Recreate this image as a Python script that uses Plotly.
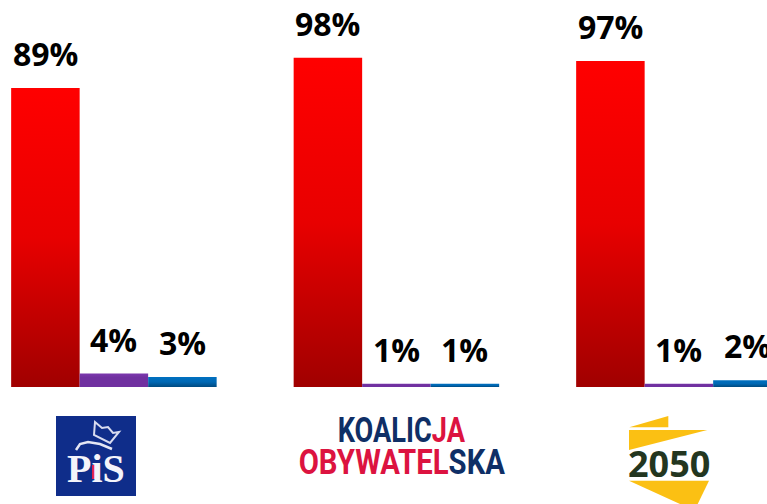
import plotly.graph_objects as go

W, H = 767, 504
parties = ["PiS", "Koalicja Obywatelska", "Polska 2050"]
tak = [89, 98, 97]
srodek = [4, 1, 1]
nie = [3, 1, 2]
series = [("Tak", tak, "#c00000"), ("Srodek", srodek, "#7030a0"), ("Nie", nie, "#0070c0")]

def X(p): return p / W
def Y(p): return 1 - p / H
def poly(pts, fill, line=None, lw=0, closed=True):
    d = "M" + " L".join(f"{X(a):.5f},{Y(b):.5f}" for a, b in pts) + (" Z" if closed else "")
    return dict(type="path", xref="paper", yref="paper", path=d,
                fillcolor=fill, line=dict(color=line or "rgba(0,0,0,0)", width=lw), layer="above")

fig = go.Figure()
for name, vals, col in series:
    fig.add_bar(x=parties, y=vals, name=name, marker=dict(color=col, line=dict(width=0)),
                hoverinfo="skip")

annotations = []
for i, (name, vals, col) in enumerate(series):
    for j, v in enumerate(vals):
        annotations.append(dict(x=j + (i - 1) * 0.2425, y=v, xref="x", yref="y", text=f"<b>{v}%</b>",
                                showarrow=False, xanchor="center", yanchor="bottom", yshift=11,
                                font=dict(family="Open Sans", size=32, color="#000000")))

# KOALICJA OBYWATELSKA logo
navy, crimson = "#0f2f66", "#dc1340"
annotations.append(dict(x=X(401), y=Y(430), xref="paper", yref="paper", showarrow=False,
    text=f'<b><span style="color:{navy}">KOALIC</span><span style="color:{crimson}">JA</span></b>',
    font=dict(family="Roboto", size=36), xanchor="center", yanchor="middle"))
annotations.append(dict(x=X(401.5), y=Y(462), xref="paper", yref="paper", showarrow=False,
    text=f'<b><span style="color:{crimson}">OBYWATEL</span><span style="color:{navy}">SKA</span></b>',
    font=dict(family="Roboto", size=36), xanchor="center", yanchor="middle"))
# PiS logo text
annotations.append(dict(x=X(96), y=Y(468), xref="paper", yref="paper", showarrow=False,
    text="<b>PiS</b>", font=dict(family="Liberation Serif", size=40, color="#f4f4fa"),
    xanchor="center", yanchor="middle"))
# 2050 logo text
annotations.append(dict(x=X(669), y=Y(463), xref="paper", yref="paper", showarrow=False,
    text="<b>2050</b>", font=dict(family="Open Sans", size=36, color="#233620"),
    xanchor="center", yanchor="middle"))

shapes = [
    dict(type="rect", xref="paper", yref="paper", x0=X(56), x1=X(136), y0=Y(496), y1=Y(416),
         fillcolor="#0f2d8a", line=dict(width=0), layer="below"),
    poly([(95, 422), (102, 428), (108, 427), (113, 433), (119, 432), (110, 443), (94, 435)],
         "rgba(0,0,0,0)", "#d8dcf0", 2),
    poly([(76, 450), (80, 444), (88, 442), (100, 444), (112, 449)], "rgba(0,0,0,0)", "#e4e6f4", 2.5, closed=False),
    dict(type="rect", xref="paper", yref="paper", x0=X(92), x1=X(99), y0=Y(479), y1=Y(465),
         fillcolor="#e0204a", line=dict(width=0), layer="above"),
    poly([(629.3, 427.3), (668.3, 416), (668.3, 427.3)], "#fbc013"),
    poly([(629, 430), (707.3, 430), (629, 450)], "#fbc013"),
    poly([(629, 480.7), (709, 480.7), (697.7, 504), (680, 504)], "#fbc013"),
]

pxcat = 282.5
r0 = -113.9 / pxcat
ppu = 3.36
fig.update_layout(
    width=W, height=H, margin=dict(l=0, r=0, t=0, b=0), autosize=False,
    paper_bgcolor="white", plot_bgcolor="white", showlegend=False,
    barmode="group", bargap=0.2726, bargroupgap=0,
    xaxis=dict(visible=False, range=[r0, r0 + W / pxcat]),
    yaxis=dict(visible=False, range=[-(H - 387) / ppu, 387 / ppu]),
    annotations=annotations, shapes=shapes,
)

post = """
document.body.style.margin = '0';
document.body.style.overflow = 'hidden';
var gd = document.getElementById('{plot_id}');
var stops = [
  [['0','#ff0000'],['0.5','#e80000'],['1','#a00000']],
  [['0','#7c38ae'],['0.3','#7030a0'],['1','#7030a0']],
  [['0','#0070c0'],['0.5','#0068b4'],['1','#004a80']]
];
var NS = 'http://www.w3.org/2000/svg';
var svg = gd.querySelector('svg.main-svg');
var defs = document.createElementNS(NS, 'defs');
stops.forEach(function(s, i) {
  var g = document.createElementNS(NS, 'linearGradient');
  g.setAttribute('id', 'grad' + i);
  g.setAttribute('x1', '0'); g.setAttribute('y1', '0');
  g.setAttribute('x2', '0'); g.setAttribute('y2', '1');
  s.forEach(function(p) {
    var st = document.createElementNS(NS, 'stop');
    st.setAttribute('offset', p[0]); st.setAttribute('stop-color', p[1]);
    g.appendChild(st);
  });
  defs.appendChild(g);
});
svg.insertBefore(defs, svg.firstChild);
gd.querySelectorAll('.barlayer .trace.bars').forEach(function(t, i) {
  t.querySelectorAll('path').forEach(function(p) {
    p.style.fill = 'url(#grad' + i + ')';
  });
});
// condense the logo wordmarks horizontally
var targets = {'KOALICJA': 128, 'OBYWATELSKA': 207};
gd.querySelectorAll('.annotation-text').forEach(function(t) {
  var w = targets[t.textContent];
  if (!w) return;
  var b = t.getBBox();
  var c = b.x + b.width / 2;
  t.setAttribute('transform', 'translate(' + c + ',0) scale(' + (w / b.width) + ',1) translate(' + (-c) + ',0)');
});
"""
fig.write_html("out.html", post_script=post, config=dict(displayModeBar=False, staticPlot=True))
